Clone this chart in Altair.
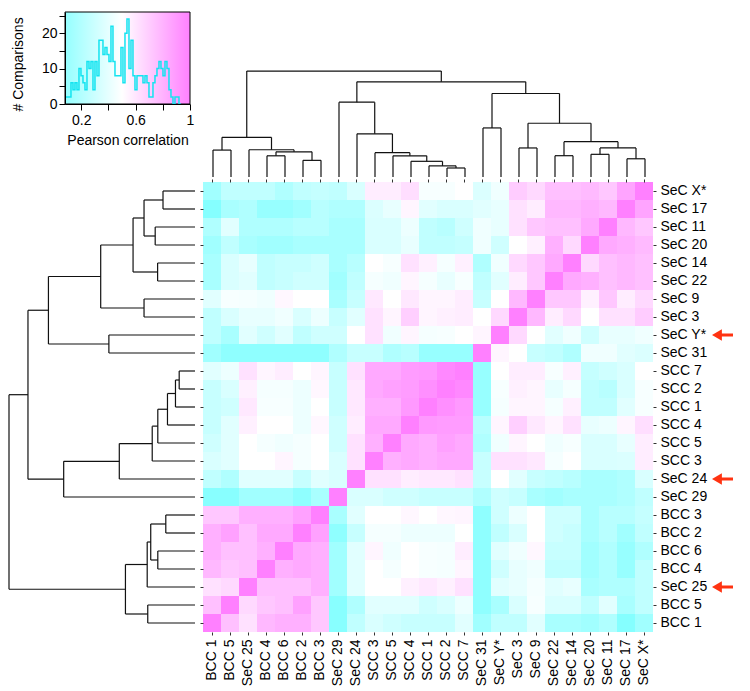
import altair as alt
import pandas as pd

# ---------------- labels ----------------
col_labels = ["BCC 1", "BCC 5", "SeC 25", "BCC 4", "BCC 6", "BCC 2", "BCC 3",
              "SeC 29", "SeC 24", "SCC 3", "SCC 5", "SCC 4", "SCC 1", "SCC 2",
              "SCC 7", "SeC 31", "SeC Y*", "SeC 3", "SeC 9", "SeC 22", "SeC 14",
              "SeC 20", "SeC 11", "SeC 17", "SeC X*"]
row_labels = list(reversed(col_labels))
arrow_rows = ["SeC Y*", "SeC 24", "SeC 25"]

# ---------------- correlations (each label vs the labels before it, column order) ----------------
corr_bcc5 = [0.75]
corr_sec25 = [0.62, 0.65]
corr_bcc4 = [0.78, 0.72, 0.75]
corr_bcc6 = [0.81, 0.75, 0.75, 0.81]
corr_bcc2 = [0.81, 0.87, 0.75, 0.84, 0.84]
corr_bcc3 = [0.72, 0.72, 0.81, 0.81, 0.81, 0.87]
corr_sec29 = [0.03, 0.03, 0.13, 0.13, 0.13, 0.06, 0.16]
corr_sec24 = [0.25, 0.19, 0.38, 0.38, 0.38, 0.28, 0.38, 0.35]
corr_scc3 = [0.35, 0.38, 0.5, 0.5, 0.54, 0.46, 0.5, 0.35, 0.62]
corr_scc5 = [0.31, 0.38, 0.5, 0.46, 0.44, 0.46, 0.5, 0.31, 0.62, 0.81]
corr_scc4 = [0.28, 0.38, 0.56, 0.5, 0.5, 0.43, 0.53, 0.31, 0.57, 0.84, 0.84]
corr_scc1 = [0.28, 0.31, 0.59, 0.47, 0.47, 0.43, 0.5, 0.28, 0.59, 0.81, 0.81, 0.9]
corr_scc2 = [0.28, 0.35, 0.56, 0.46, 0.46, 0.43, 0.53, 0.28, 0.59, 0.84, 0.87, 0.89, 0.94]
corr_scc7 = [0.38, 0.43, 0.62, 0.54, 0.57, 0.5, 0.54, 0.28, 0.62, 0.84, 0.84, 0.89, 0.9, 0.97]
corr_sec31 = [0.13, 0.06, 0.06, 0.06, 0.06, 0.06, 0.06, 0.19, 0.28, 0.28, 0.19, 0.22, 0.09, 0.09, 0.09]
corr_secy = [0.25, 0.16, 0.38, 0.31, 0.38, 0.25, 0.31, 0.31, 0.5, 0.62, 0.44, 0.54, 0.46, 0.47, 0.5, 0.54]
corr_sec3 = [0.25, 0.35, 0.41, 0.41, 0.44, 0.35, 0.43, 0.28, 0.38, 0.62, 0.54, 0.69, 0.54, 0.56, 0.57, 0.5, 0.65]
corr_sec9 = [0.38, 0.47, 0.46, 0.44, 0.53, 0.5, 0.5, 0.16, 0.28, 0.59, 0.5, 0.59, 0.54, 0.54, 0.57, 0.28, 0.5, 0.78]
corr_sec22 = [0.16, 0.35, 0.38, 0.25, 0.28, 0.31, 0.31, 0.13, 0.25, 0.46, 0.44, 0.54, 0.46, 0.41, 0.47, 0.25, 0.38, 0.57, 0.72]
corr_sec14 = [0.16, 0.35, 0.41, 0.25, 0.28, 0.28, 0.31, 0.16, 0.22, 0.5, 0.47, 0.62, 0.56, 0.46, 0.56, 0.19, 0.44, 0.65, 0.72, 0.84]
corr_sec20 = [0.13, 0.25, 0.16, 0.13, 0.13, 0.16, 0.16, 0.16, 0.16, 0.35, 0.35, 0.41, 0.25, 0.25, 0.27, 0.44, 0.31, 0.5, 0.56, 0.81, 0.65]
corr_sec11 = [0.19, 0.38, 0.19, 0.19, 0.19, 0.22, 0.22, 0.16, 0.16, 0.35, 0.35, 0.43, 0.25, 0.22, 0.31, 0.44, 0.41, 0.62, 0.72, 0.75, 0.75, 0.84]
corr_sec17 = [0.02, 0.16, 0.19, 0.09, 0.09, 0.13, 0.22, 0.19, 0.19, 0.36, 0.41, 0.54, 0.38, 0.35, 0.35, 0.38, 0.41, 0.62, 0.57, 0.78, 0.78, 0.81, 0.78]
corr_secx = [0.13, 0.25, 0.25, 0.25, 0.19, 0.25, 0.27, 0.25, 0.35, 0.57, 0.57, 0.63, 0.47, 0.47, 0.5, 0.36, 0.44, 0.7, 0.65, 0.75, 0.75, 0.77, 0.72, 0.86]

lower_rows = [corr_bcc5, corr_sec25, corr_bcc4, corr_bcc6, corr_bcc2, corr_bcc3,
              corr_sec29, corr_sec24, corr_scc3, corr_scc5, corr_scc4, corr_scc1,
              corr_scc2, corr_scc7, corr_sec31, corr_secy, corr_sec3, corr_sec9,
              corr_sec22, corr_sec14, corr_sec20, corr_sec11, corr_sec17, corr_secx]

# ---------------- dendrogram merges (child a, child b, normalized height) ----------------
merge_a = ["BCC 1", "BCC 4", "BCC 2", "m1", "SeC 25", "m0",
           "SCC 2", "SCC 1", "SCC 4", "SCC 5", "SCC 3", "SeC 24", "SeC 29",
           "SeC 31", "SeC 3", "SeC 22", "SeC 20", "SeC 17", "m16", "m15", "m14",
           "m13", "m12", "m5"]
merge_b = ["BCC 5", "BCC 6", "BCC 3", "m2", "m3", "m4",
           "SCC 7", "m6", "m7", "m8", "m9", "m10", "m11",
           "SeC Y*", "SeC 9", "SeC 14", "SeC 11", "SeC X*", "m17", "m18", "m19",
           "m20", "m21", "m22"]
merge_h = [0.254, 0.200, 0.157, 0.238, 0.257, 0.374,
           0.085, 0.105, 0.148, 0.200, 0.230, 0.407, 0.706,
           0.463, 0.274, 0.201, 0.214, 0.172, 0.274, 0.333, 0.507,
           0.788, 0.898, 1.000]

# ---------------- histogram ----------------
hist_start = 0.0798
hist_bin_width = 0.01472
hist_counts = [2, 2, 2, 6, 4, 6, 4, 10, 8, 6, 4, 12, 10, 12, 4, 12, 8, 18, 18, 14,
               16, 14, 12, 22, 12, 8, 8, 8, 16, 6, 20, 24, 10, 18, 8, 4, 8, 8, 8, 6,
               8, 6, 2, 2, 6, 8, 10, 12, 10, 8, 12, 10, 4, 2, 0, 2, 2, 0]

FONT = "Liberation Sans"

# ---------------- build tables ----------------
cells = []
for i, a in enumerate(col_labels):
    for j, b in enumerate(col_labels):
        if i == j:
            v = 1.0
        elif i > j:
            v = lower_rows[i - 1][j]
        else:
            v = lower_rows[j - 1][i]
        cells.append({"col": b, "row": a, "r": v})
heat_df = pd.DataFrame(cells)

pos = {lab: k + 0.5 for k, lab in enumerate(col_labels)}
hgt = {lab: 0.0 for lab in col_labels}
segs = []
for k, (a, b, h) in enumerate(zip(merge_a, merge_b, merge_h)):
    for c in (a, b):
        segs.append({"p1": pos[c], "p2": pos[c], "h1": hgt[c], "h2": h})
    segs.append({"p1": pos[a], "p2": pos[b], "h1": h, "h2": h})
    pos[f"m{k}"] = (pos[a] + pos[b]) / 2
    hgt[f"m{k}"] = h
dend_df = pd.DataFrame(segs)

hx = [hist_start + k * hist_bin_width for k in range(len(hist_counts) + 1)]
hist_df = pd.DataFrame({"x": hx, "n": hist_counts + [hist_counts[-1]]})

# ---------------- heatmap ----------------
axis_common = dict(domain=False, ticks=True, tickSize=3, tickColor="#333333",
                   labelFont=FONT, labelFontSize=14, labelColor="black",
                   title=None, grid=False, labelPadding=4)
hx_scale = alt.Scale(domain=col_labels, paddingInner=0, paddingOuter=0)
hy_scale = alt.Scale(domain=row_labels, paddingInner=0, paddingOuter=0)
color_scale = alt.Scale(domain=[0, 0.5, 1], range=["#80ffff", "#ffffff", "#ff80ff"],
                        interpolate="rgb")

heat_main = alt.Chart(heat_df).mark_rect().encode(
    x=alt.X("col:N", scale=hx_scale, sort=col_labels,
            axis=alt.Axis(orient="bottom", labelAngle=270, **axis_common)),
    y=alt.Y("row:N", scale=hy_scale, sort=row_labels,
            axis=alt.Axis(orient="right", **axis_common)),
    color=alt.Color("r:Q", scale=color_scale, legend=None),
)
heat_ticks = alt.Chart(heat_df).mark_rect(opacity=0).encode(
    x=alt.X("col:N", scale=hx_scale, sort=col_labels,
            axis=alt.Axis(orient="top", labels=False, **axis_common)),
    y=alt.Y("row:N", scale=hy_scale, sort=row_labels,
            axis=alt.Axis(orient="left", labels=False, **axis_common)),
)
heat = alt.layer(heat_main, heat_ticks).properties(width=450, height=450)

# ---------------- dendrograms ----------------
top_dend = alt.Chart(dend_df).mark_rule(color="#111111", strokeWidth=1.2).encode(
    x=alt.X("p1:Q", scale=alt.Scale(domain=[0, 25], nice=False, zero=False), axis=None),
    x2="p2:Q",
    y=alt.Y("h1:Q", scale=alt.Scale(domain=[0, 1.557], nice=False), axis=None),
    y2="h2:Q",
).properties(width=450, height=165)

left_dend = alt.Chart(dend_df).mark_rule(color="#111111", strokeWidth=1.2).encode(
    x=alt.X("h1:Q", scale=alt.Scale(domain=[0, 1], reverse=True, nice=False), axis=None),
    x2="h2:Q",
    y=alt.Y("p1:Q", scale=alt.Scale(domain=[0, 25], nice=False, zero=False), axis=None),
    y2="p2:Q",
).properties(width=186, height=450)

# ---------------- histogram inset ----------------
hxs = alt.Scale(domain=[0.08, 1.0], nice=False, zero=False)
hys = alt.Scale(domain=[0, 26], nice=False)
bg_df = pd.DataFrame({"x": [0.08], "x2": [1.0], "y": [0], "y2": [26]})
grad = alt.Gradient(gradient="linear",
                    stops=[alt.GradientStop(color="#94ffff", offset=0),
                           alt.GradientStop(color="#ffffff", offset=0.4565),
                           alt.GradientStop(color="#ff80ff", offset=1)],
                    x1=0, x2=1, y1=0, y2=0)
ax_h = dict(tickColor="black", domainColor="black", tickSize=6, labelFont=FONT,
            labelFontSize=14, labelColor="black", titleFont=FONT, titleFontSize=14,
            titleFontWeight="normal", titleColor="black", grid=False,
            labelFlush=False, labelOverlap=False, zindex=1)
hist_x_axis = alt.Axis(
    values=[0.2, 0.4, 0.6, 0.8, 1.0],
    labelExpr="datum.value == 0.2 ? '0.2' : (datum.value == 0.6 ? '0.6' : (datum.value == 1 ? '1' : ''))",
    title="Pearson correlation", labelPadding=3, titlePadding=6, **ax_h)
hist_y_axis = alt.Axis(
    values=[0, 5, 10, 15, 20, 25],
    labelExpr="datum.value % 10 == 0 ? datum.label : ''",
    title="# Comparisons", labelPadding=2, titleX=-40, titleY=99,
    titleAngle=270, titleAlign="left", titleBaseline="bottom", **ax_h)

bg = alt.Chart(bg_df).mark_rect(color=grad, stroke="black", strokeWidth=1).encode(
    x=alt.X("x:Q", scale=hxs, axis=hist_x_axis),
    x2="x2:Q",
    y=alt.Y("y:Q", scale=hys, axis=hist_y_axis),
    y2="y2:Q",
)
line = alt.Chart(hist_df).mark_line(interpolate="step-after", color="#14e4f0",
                                    strokeWidth=1.5).encode(
    x=alt.X("x:Q", scale=hxs, axis=hist_x_axis),
    y=alt.Y("n:Q", scale=hys, axis=hist_y_axis),
)
hist = alt.layer(bg, line).properties(width=125, height=92)

# empty 1px spacer so the inset's axis title is laid out in positive space
spacer = alt.Chart(pd.DataFrame({"a": [0]})).mark_point(size=0, opacity=0).encode(
    x=alt.X("a:Q", axis=None), y=alt.Y("a:Q", axis=None)
).properties(width=1, height=1)

# ---------------- arrows ----------------
arrow_df = pd.DataFrame({"row": arrow_rows, "head": [0.27] * 3,
                         "tail0": [0.4] * 3, "tail1": [1.0] * 3})
ays = alt.Scale(type="point", domain=row_labels, padding=0.5)
axs = alt.Scale(domain=[0, 1], nice=False, zero=False)
shaft = alt.Chart(arrow_df).mark_rule(color="#ff3311", strokeWidth=3).encode(
    y=alt.Y("row:N", scale=ays, axis=None),
    x=alt.X("tail0:Q", scale=axs, axis=None),
    x2="tail1:Q",
)
head = alt.Chart(arrow_df).mark_point(shape="triangle-left", filled=True, size=130,
                                      color="#ff3311", opacity=1).encode(
    y=alt.Y("row:N", scale=ays, axis=None),
    x=alt.X("head:Q", scale=axs, axis=None),
)
arrows = alt.layer(shaft, head).properties(width=22, height=450)

# ---------------- assemble ----------------
row1 = alt.hconcat(alt.hconcat(spacer, hist, spacing=0), top_dend, spacing=10)
row2 = alt.hconcat(left_dend, alt.hconcat(heat, arrows, spacing=4), spacing=3)
chart = alt.vconcat(row1, row2, spacing=0).properties(padding=0).configure(
    font=FONT, view=alt.ViewConfig(stroke=None))

chart.save("out.html", embed_options={"renderer": "svg", "actions": False})
